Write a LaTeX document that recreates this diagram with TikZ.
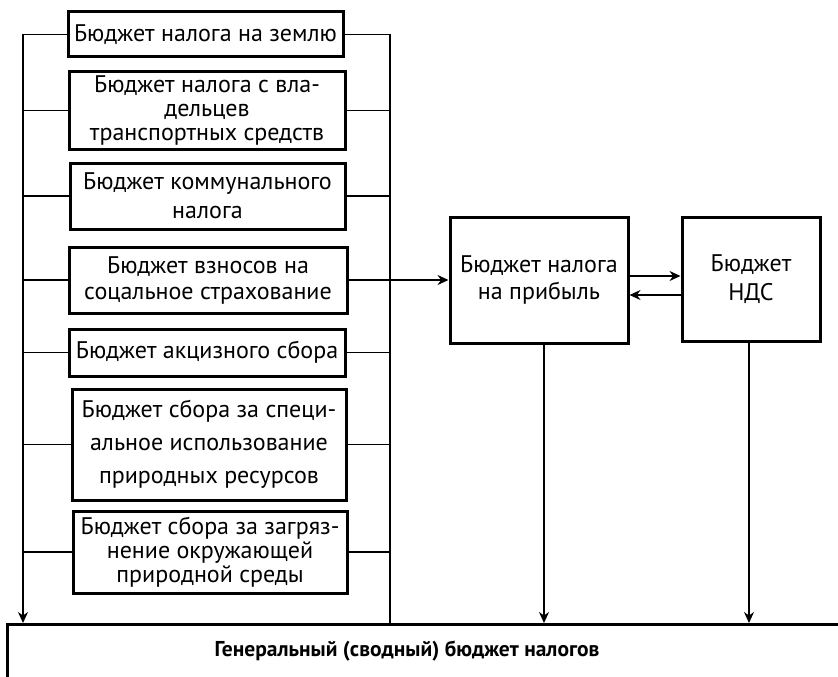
\documentclass[tikz,border=0pt]{standalone}
\usepackage{fontspec}
\setmainfont{PT Sans}
\usetikzlibrary{arrows.meta,calc}
\begin{document}
\begin{tikzpicture}[x=1pt,y=-1pt,
  budget/.style={draw,line width=3pt,align=center,inner sep=0pt,
    font=\fontsize{24}{24}\selectfont},
  lead/.style={font=\fontsize{24}{#1}\selectfont},
  link/.style={line width=1.4pt},
  arr/.style={link,-{Stealth[length=11pt,width=10pt]}}]
\useasboundingbox (0,0) rectangle (838,677);
\clip (0,0) rectangle (838,677);

% tax budgets, left column
\node[budget,minimum width=275,minimum height=45] (b1) at (205.5,34.5) {Бюджет налога на землю};
\node[budget,minimum width=276,minimum height=77] (b2) at (207,110.5) {Бюджет налога с вла-\\дельцев\\транспортных средств};
\node[budget,lead=29,minimum width=275,minimum height=66] (b3) at (207.5,196) {Бюджет коммунального\\налога};
\node[budget,lead=26,minimum width=278,minimum height=66] (b4) at (208,280) {Бюджет взносов на\\соцальное страхование};
\node[budget,minimum width=276,minimum height=47] (b5) at (207,352.5) {Бюджет акцизного сбора};
\node[budget,lead=33,minimum width=274,minimum height=111] (b6) at (209,444.5) {Бюджет сбора за специ-\\альное использование\\природных ресурсов};
\node[budget,minimum width=274,minimum height=82] (b7) at (210,552) {Бюджет сбора за загряз-\\нение окружающей\\природной среды};

% profit tax and VAT budgets
\node[budget,lead=27,minimum width=178,minimum height=126] (p) at (539,280) {Бюджет налога\\на прибыль};
\node[budget,lead=29,minimum width=138,minimum height=124] (n) at (751,279) {Бюджет\\НДС};

% general budget (runs past the page edge)
\node[draw,line width=3pt,anchor=north west,minimum width=880,minimum height=90] (g) at (6,623) {};
\node[font=\fontsize{21.5}{24}\selectfont\bfseries] (gl) at (407,651) {Генеральный (сводный) бюджет налогов};

% bus lines
\coordinate (lt) at (23,34);
\coordinate (lb) at (23,0);
\coordinate (rt) at (390,34);
\coordinate (xp) at (544,0);
\coordinate (xn) at (749,0);
\coordinate (ya) at (0,276);
\coordinate (yb) at (0,295);

\draw[arr] (lt) -- (g.north -| lb);
\draw[link] (rt) -- (g.north -| rt);
\foreach \b in {b1,b2,b3,b5,b6,b7} {
  \draw[link] (\b.west) -- (\b.west -| lt);
  \draw[link] (\b.east) -- (\b.east -| rt);
}
\draw[link] (b4.west) -- (b4.west -| lt);
\draw[arr] (b4.east) -- (p.west);

\draw[arr] (p.east |- ya) -- (n.west |- ya);
\draw[arr] (n.west |- yb) -- (p.east |- yb);
\draw[arr] (p.south -| xp) -- (g.north -| xp);
\draw[arr] (n.south -| xn) -- (g.north -| xn);
\end{tikzpicture}
\end{document}
